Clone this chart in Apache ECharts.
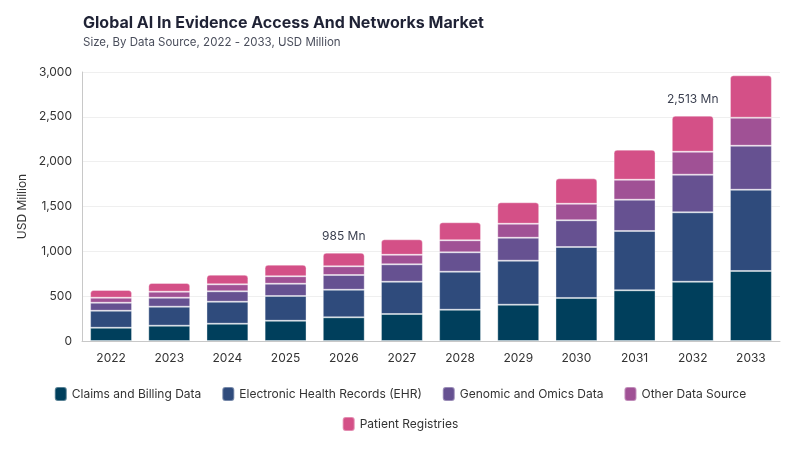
<!DOCTYPE html>
<html>
<head>
<meta charset="utf-8">
<script src="https://cdn.jsdelivr.net/npm/echarts@6/dist/echarts.min.js"></script>
<style>
  html, body { margin: 0; padding: 0; background: #fff; }
  #chart { width: 800px; height: 450px; }
</style>
</head>
<body>
<div id="chart"></div>
<script>
var years = ['2022','2023','2024','2025','2026','2027','2028','2029','2030','2031','2032','2033'];
var claims   = [148, 171, 193, 226, 264, 301, 349, 405, 480, 565, 661, 781];
var ehr      = [190, 212, 245, 276, 308, 360, 424, 491, 568, 662, 774, 906];
var genomic  = [ 89, 100, 116, 137, 164, 194, 216, 256, 298, 349, 420, 491];
var other    = [ 56,  67,  78,  83,  97, 107, 134, 156, 185, 223, 256, 312];
var patient  = [ 86,  97, 107, 129, 152, 172, 201, 239, 283, 335, 402, 473];
var labelled = [4, 10]; // bars that carry a total label
var yTicks = [0, 500, 1000, 1500, 2000, 2500, 3000];

var names = ['Claims and Billing Data', 'Electronic Health Records (EHR)', 'Genomic and Omics Data', 'Other Data Source', 'Patient Registries'];
var colors = ['#003f5c', '#2f4b7c', '#665191', '#a05195', '#d45087'];
var values = [claims, ehr, genomic, other, patient];

function total(i){
  var s = 0;
  for (var k = 0; k < values.length; k++) s += values[k][i];
  return s;
}

var series = [];
for (var k = 0; k < values.length; k++) {
  var isTop = (k === values.length - 1);
  var data = values[k].map(function(v, i){
    var item = { value: v };
    if (isTop && labelled.indexOf(i) >= 0) {
      item.label = {
        show: true, position: 'top', distance: 10,
        formatter: total(i).toLocaleString('en-US') + ' Mn',
        color: '#3a3f4f', fontSize: 12, fontFamily: 'Inter'
      };
    }
    return item;
  });
  series.push({
    name: names[k],
    type: 'bar',
    stack: 'total',
    barWidth: '72%',
    itemStyle: {
      color: colors[k],
      borderColor: 'rgba(255,255,255,0.35)',
      borderWidth: 1,
      borderRadius: isTop ? [3, 3, 0, 0] : 0
    },
    data: data
  });
}

// legend laid out in two centred rows like the original
var legendBase = {
  left: 'center',
  itemWidth: 12, itemHeight: 14, itemGap: 20,
  icon: 'roundRect',
  textStyle: { fontFamily: 'Inter', fontSize: 12, color: '#333' }
};

var chart = echarts.init(document.getElementById('chart'), null, { renderer: 'canvas' });
chart.setOption({
  animation: false,
  title: {
    text: 'Global AI In Evidence Access And Networks Market',
    subtext: 'Size, By Data Source, 2022 - 2033, USD Million',
    left: 78, top: 10,
    itemGap: 6,
    textStyle: { fontFamily: 'Inter', fontSize: 16, fontWeight: 'bold', color: '#1f2235' },
    subtextStyle: { fontFamily: 'Inter', fontSize: 11.5, color: '#4a4e5c' }
  },
  legend: [
    Object.assign({}, legendBase, { top: 381, data: names.slice(0, 4) }),
    Object.assign({}, legendBase, { top: 411, data: names.slice(4) })
  ],
  grid: { left: 82, right: 20, top: 72, bottom: 109 },
  xAxis: {
    type: 'category',
    data: years,
    axisLine: { lineStyle: { color: '#c8c8c8' } },
    axisTick: { show: false },
    axisLabel: { color: '#333', fontSize: 12, fontFamily: 'Inter', margin: 11 }
  },
  yAxis: {
    type: 'value',
    min: yTicks[0], max: yTicks[yTicks.length - 1], interval: 500,
    name: 'USD Million',
    nameLocation: 'middle',
    nameGap: 54,
    nameTextStyle: { fontFamily: 'Inter', fontSize: 12, color: '#333' },
    axisLine: { show: true, lineStyle: { color: '#c8c8c8' } },
    axisLabel: {
      color: '#333', fontSize: 12, fontFamily: 'Inter', margin: 10,
      formatter: function(v){ return v.toLocaleString('en-US'); }
    },
    splitLine: { lineStyle: { color: '#efefef' } }
  },
  series: series
});
</script>
</body>
</html>
